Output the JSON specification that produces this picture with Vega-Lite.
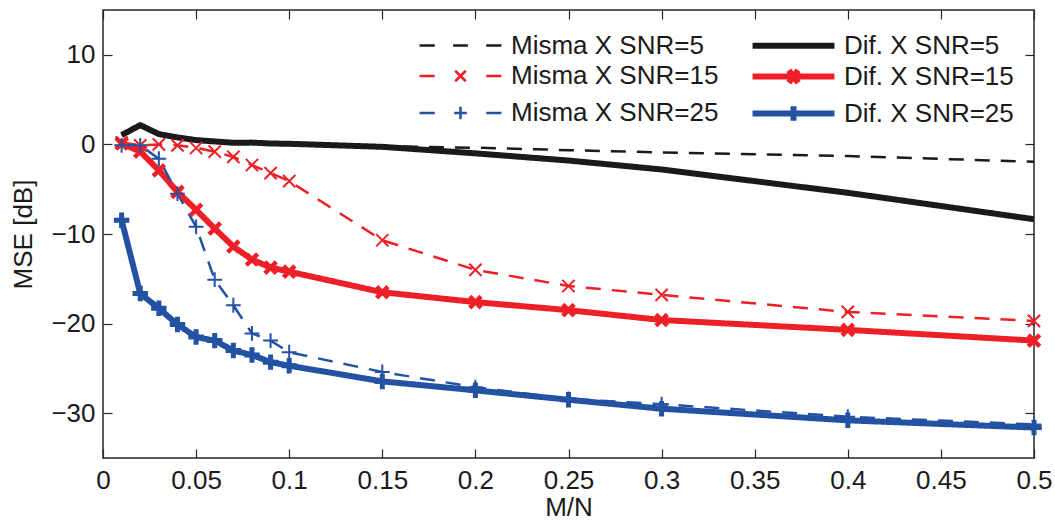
{
  "$schema": "https://vega.github.io/schema/vega-lite/v6.json",
  "width": 931,
  "height": 448,
  "autosize": {"type": "none"},
  "padding": {"left": 103, "top": 10, "right": 21, "bottom": 66},
  "background": "white",
  "config": {
    "font": "Liberation Sans",
    "view": {"stroke": "#262626", "strokeWidth": 1.5},
    "axis": {
      "grid": false,
      "domain": false,
      "tickColor": "#262626",
      "tickSize": -9,
      "tickWidth": 1.2,
      "labelFont": "Liberation Sans",
      "labelFontSize": 26,
      "labelColor": "#1a1a1a",
      "titleFont": "Liberation Sans",
      "titleFontSize": 26,
      "titleFontWeight": "normal",
      "titleColor": "#1a1a1a"
    },
    "legend": {
      "labelFont": "Liberation Sans", "labelFontSize": 26, "labelColor": "#1a1a1a", "labelLimit": 400,
      "symbolFillColor": "transparent"
    }
  },
  "resolve": {"scale": {"color": "independent", "strokeWidth": "independent", "strokeDash": "independent", "shape": "independent"}},
  "data": {
    "values": [
      {"x": 0.01, "y": 1.0, "s": "Misma X SNR=5"},
      {"x": 0.02, "y": 2.05, "s": "Misma X SNR=5"},
      {"x": 0.03, "y": 1.1, "s": "Misma X SNR=5"},
      {"x": 0.04, "y": 0.75, "s": "Misma X SNR=5"},
      {"x": 0.05, "y": 0.45, "s": "Misma X SNR=5"},
      {"x": 0.06, "y": 0.3, "s": "Misma X SNR=5"},
      {"x": 0.07, "y": 0.15, "s": "Misma X SNR=5"},
      {"x": 0.08, "y": 0.18, "s": "Misma X SNR=5"},
      {"x": 0.09, "y": 0.08, "s": "Misma X SNR=5"},
      {"x": 0.1, "y": 0.04, "s": "Misma X SNR=5"},
      {"x": 0.15, "y": -0.2, "s": "Misma X SNR=5"},
      {"x": 0.2, "y": -0.37, "s": "Misma X SNR=5"},
      {"x": 0.25, "y": -0.64, "s": "Misma X SNR=5"},
      {"x": 0.3, "y": -0.9, "s": "Misma X SNR=5"},
      {"x": 0.4, "y": -1.3, "s": "Misma X SNR=5"},
      {"x": 0.5, "y": -1.94, "s": "Misma X SNR=5"},
      {"x": 0.01, "y": 1.04, "s": "Dif. X SNR=5"},
      {"x": 0.02, "y": 2.15, "s": "Dif. X SNR=5"},
      {"x": 0.03, "y": 1.15, "s": "Dif. X SNR=5"},
      {"x": 0.04, "y": 0.78, "s": "Dif. X SNR=5"},
      {"x": 0.05, "y": 0.48, "s": "Dif. X SNR=5"},
      {"x": 0.06, "y": 0.33, "s": "Dif. X SNR=5"},
      {"x": 0.07, "y": 0.18, "s": "Dif. X SNR=5"},
      {"x": 0.08, "y": 0.2, "s": "Dif. X SNR=5"},
      {"x": 0.09, "y": 0.1, "s": "Dif. X SNR=5"},
      {"x": 0.1, "y": 0.07, "s": "Dif. X SNR=5"},
      {"x": 0.15, "y": -0.27, "s": "Dif. X SNR=5"},
      {"x": 0.2, "y": -1.0, "s": "Dif. X SNR=5"},
      {"x": 0.25, "y": -1.8, "s": "Dif. X SNR=5"},
      {"x": 0.3, "y": -2.8, "s": "Dif. X SNR=5"},
      {"x": 0.4, "y": -5.4, "s": "Dif. X SNR=5"},
      {"x": 0.5, "y": -8.35, "s": "Dif. X SNR=5"},
      {"x": 0.01, "y": 0.2, "s": "Misma X SNR=15"},
      {"x": 0.02, "y": -0.1, "s": "Misma X SNR=15"},
      {"x": 0.03, "y": 0.0, "s": "Misma X SNR=15"},
      {"x": 0.04, "y": -0.1, "s": "Misma X SNR=15"},
      {"x": 0.05, "y": -0.4, "s": "Misma X SNR=15"},
      {"x": 0.06, "y": -0.8, "s": "Misma X SNR=15"},
      {"x": 0.07, "y": -1.4, "s": "Misma X SNR=15"},
      {"x": 0.08, "y": -2.3, "s": "Misma X SNR=15"},
      {"x": 0.09, "y": -3.2, "s": "Misma X SNR=15"},
      {"x": 0.1, "y": -4.1, "s": "Misma X SNR=15"},
      {"x": 0.15, "y": -10.7, "s": "Misma X SNR=15"},
      {"x": 0.2, "y": -14.0, "s": "Misma X SNR=15"},
      {"x": 0.25, "y": -15.8, "s": "Misma X SNR=15"},
      {"x": 0.3, "y": -16.8, "s": "Misma X SNR=15"},
      {"x": 0.4, "y": -18.7, "s": "Misma X SNR=15"},
      {"x": 0.5, "y": -19.7, "s": "Misma X SNR=15"},
      {"x": 0.01, "y": 0.1, "s": "Dif. X SNR=15"},
      {"x": 0.02, "y": -0.8, "s": "Dif. X SNR=15"},
      {"x": 0.03, "y": -2.9, "s": "Dif. X SNR=15"},
      {"x": 0.04, "y": -5.3, "s": "Dif. X SNR=15"},
      {"x": 0.05, "y": -7.3, "s": "Dif. X SNR=15"},
      {"x": 0.06, "y": -9.4, "s": "Dif. X SNR=15"},
      {"x": 0.07, "y": -11.4, "s": "Dif. X SNR=15"},
      {"x": 0.08, "y": -12.85, "s": "Dif. X SNR=15"},
      {"x": 0.09, "y": -13.75, "s": "Dif. X SNR=15"},
      {"x": 0.1, "y": -14.2, "s": "Dif. X SNR=15"},
      {"x": 0.15, "y": -16.5, "s": "Dif. X SNR=15"},
      {"x": 0.2, "y": -17.6, "s": "Dif. X SNR=15"},
      {"x": 0.25, "y": -18.5, "s": "Dif. X SNR=15"},
      {"x": 0.3, "y": -19.6, "s": "Dif. X SNR=15"},
      {"x": 0.4, "y": -20.7, "s": "Dif. X SNR=15"},
      {"x": 0.5, "y": -21.9, "s": "Dif. X SNR=15"},
      {"x": 0.01, "y": -0.1, "s": "Misma X SNR=25"},
      {"x": 0.02, "y": -0.1, "s": "Misma X SNR=25"},
      {"x": 0.03, "y": -1.6, "s": "Misma X SNR=25"},
      {"x": 0.04, "y": -5.5, "s": "Misma X SNR=25"},
      {"x": 0.05, "y": -9.2, "s": "Misma X SNR=25"},
      {"x": 0.06, "y": -15.1, "s": "Misma X SNR=25"},
      {"x": 0.07, "y": -17.95, "s": "Misma X SNR=25"},
      {"x": 0.08, "y": -21.1, "s": "Misma X SNR=25"},
      {"x": 0.09, "y": -21.9, "s": "Misma X SNR=25"},
      {"x": 0.1, "y": -23.2, "s": "Misma X SNR=25"},
      {"x": 0.15, "y": -25.4, "s": "Misma X SNR=25"},
      {"x": 0.2, "y": -27.1, "s": "Misma X SNR=25"},
      {"x": 0.25, "y": -28.4, "s": "Misma X SNR=25"},
      {"x": 0.3, "y": -29.0, "s": "Misma X SNR=25"},
      {"x": 0.4, "y": -30.4, "s": "Misma X SNR=25"},
      {"x": 0.5, "y": -31.25, "s": "Misma X SNR=25"},
      {"x": 0.01, "y": -8.46, "s": "Dif. X SNR=25"},
      {"x": 0.02, "y": -16.65, "s": "Dif. X SNR=25"},
      {"x": 0.03, "y": -18.3, "s": "Dif. X SNR=25"},
      {"x": 0.04, "y": -20.1, "s": "Dif. X SNR=25"},
      {"x": 0.05, "y": -21.5, "s": "Dif. X SNR=25"},
      {"x": 0.06, "y": -21.9, "s": "Dif. X SNR=25"},
      {"x": 0.07, "y": -23.0, "s": "Dif. X SNR=25"},
      {"x": 0.08, "y": -23.5, "s": "Dif. X SNR=25"},
      {"x": 0.09, "y": -24.3, "s": "Dif. X SNR=25"},
      {"x": 0.1, "y": -24.7, "s": "Dif. X SNR=25"},
      {"x": 0.15, "y": -26.45, "s": "Dif. X SNR=25"},
      {"x": 0.2, "y": -27.45, "s": "Dif. X SNR=25"},
      {"x": 0.25, "y": -28.5, "s": "Dif. X SNR=25"},
      {"x": 0.3, "y": -29.5, "s": "Dif. X SNR=25"},
      {"x": 0.4, "y": -30.8, "s": "Dif. X SNR=25"},
      {"x": 0.5, "y": -31.6, "s": "Dif. X SNR=25"}
    ]
  },
  "layer": [
    {
      "mark": {"type": "line", "strokeCap": "butt", "strokeJoin": "round"},
      "encoding": {
        "x": {"field": "x", "type": "quantitative", "scale": {"domain": [0, 0.5], "nice": false},
          "axis": {"orient": "bottom", "title": "M/N", "values": [0, 0.05, 0.1, 0.15, 0.2, 0.25, 0.3, 0.35, 0.4, 0.45, 0.5], "format": "~g", "labelFlush": false, "labelOverlap": false, "labelPadding": 18, "titlePadding": 1}},
        "y": {"field": "y", "type": "quantitative", "scale": {"domain": [-35, 15], "nice": false},
          "axis": {"orient": "left", "title": "MSE [dB]", "values": [-30, -20, -10, 0, 10], "labelPadding": 17, "titlePadding": 14}},
        "color": {"field": "s", "type": "nominal", "legend": null,
          "scale": {"domain": ["Misma X SNR=5", "Dif. X SNR=5", "Misma X SNR=15", "Dif. X SNR=15", "Misma X SNR=25", "Dif. X SNR=25"],
                    "range": ["#1a1a1a", "#1a1a1a", "#ee2027", "#ee2027", "#2352a3", "#2352a3"]}},
        "strokeDash": {"field": "s", "type": "nominal", "legend": null,
          "scale": {"domain": ["Misma X SNR=5", "Dif. X SNR=5", "Misma X SNR=15", "Dif. X SNR=15", "Misma X SNR=25", "Dif. X SNR=25"],
                    "range": [[15, 11], [1, 0], [15, 11], [1, 0], [15, 11], [1, 0]]}},
        "strokeWidth": {"field": "s", "type": "nominal", "legend": null,
          "scale": {"type": "ordinal", "domain": ["Misma X SNR=5", "Dif. X SNR=5", "Misma X SNR=15", "Dif. X SNR=15", "Misma X SNR=25", "Dif. X SNR=25"],
                    "range": [2.5, 6, 2.5, 6, 2.5, 6]}}
      }
    },
    {
      "transform": [{"filter": "datum.s === 'Misma X SNR=15'"}],
      "mark": {"type": "point", "filled": false, "shape": "M-1,-1L1,1M-1,1L1,-1", "size": 150, "strokeWidth": 2, "opacity": 1, "color": "#ee2027"},
      "encoding": {
        "x": {"field": "x", "type": "quantitative", "axis": {"orient": "top", "labels": false, "title": null, "values": [0, 0.05, 0.1, 0.15, 0.2, 0.25, 0.3, 0.35, 0.4, 0.45, 0.5]}},
        "y": {"field": "y", "type": "quantitative", "axis": {"orient": "right", "labels": false, "title": null, "values": [-30, -20, -10, 0, 10]}}
      }
    },
    {
      "transform": [{"filter": "datum.s === 'Dif. X SNR=15'"}],
      "mark": {"type": "point", "filled": false, "shape": "M-1,-1L1,1M-1,1L1,-1", "size": 130, "strokeWidth": 4.5, "opacity": 1, "color": "#ee2027"},
      "encoding": {
        "x": {"field": "x", "type": "quantitative", "axis": null},
        "y": {"field": "y", "type": "quantitative", "axis": null}
      }
    },
    {
      "transform": [{"filter": "datum.s === 'Misma X SNR=25'"}],
      "mark": {"type": "point", "filled": false, "shape": "M-1,0H1M0,-1V1", "size": 220, "strokeWidth": 2, "opacity": 1, "color": "#2352a3"},
      "encoding": {
        "x": {"field": "x", "type": "quantitative", "axis": null},
        "y": {"field": "y", "type": "quantitative", "axis": null}
      }
    },
    {
      "transform": [{"filter": "datum.s === 'Dif. X SNR=25'"}],
      "mark": {"type": "point", "filled": false, "shape": "M-1,0H1M0,-1V1", "size": 240, "strokeWidth": 5, "opacity": 1, "color": "#2352a3"},
      "encoding": {
        "x": {"field": "x", "type": "quantitative", "axis": null},
        "y": {"field": "y", "type": "quantitative", "axis": null}
      }
    },
    {
      "mark": {"type": "point", "filled": false, "opacity": 0, "size": 441},
      "encoding": {
        "x": {"field": "x", "type": "quantitative", "axis": null},
        "y": {"field": "y", "type": "quantitative", "axis": null},
        "color": {"field": "s", "type": "nominal",
          "legend": {"title": null, "orient": "none", "legendX": 344, "legendY": 22, "columns": 2, "columnPadding": 21, "rowPadding": -1, "labelOffset": 37, "symbolSize": 441, "padding": 0},
          "scale": {"domain": ["Misma X SNR=5", "Misma X SNR=15", "Misma X SNR=25", "Dif. X SNR=5", "Dif. X SNR=15", "Dif. X SNR=25"],
                    "range": ["#1a1a1a", "#ee2027", "#2352a3", "#1a1a1a", "#ee2027", "#2352a3"]}},
        "shape": {"field": "s", "type": "nominal",
          "legend": {"title": null, "orient": "none", "legendX": 344, "legendY": 22, "columns": 2, "columnPadding": 21, "rowPadding": -1, "labelOffset": 37, "symbolSize": 441, "padding": 0},
          "scale": {"domain": ["Misma X SNR=5", "Misma X SNR=15", "Misma X SNR=25", "Dif. X SNR=5", "Dif. X SNR=15", "Dif. X SNR=25"],
                    "range": ["M-3.9,0H-2.45M-0.7,0H0.7M2.45,0H3.9",
                              "M-3.9,0H-2.45M2.45,0H3.9M-0.5,-0.5L0.5,0.5M-0.5,0.5L0.5,-0.5",
                              "M-3.9,0H-2.45M2.45,0H3.9M-0.6,0H0.6M0,-0.6V0.6",
                              "M-3.9,0H3.9",
                              "M-3.9,0H3.9M-0.45,-0.6L0.45,0.6M-0.45,0.6L0.45,-0.6",
                              "M-3.9,0H3.9M0,-0.7V0.7"]}},
        "strokeWidth": {"field": "s", "type": "nominal",
          "legend": {"title": null, "orient": "none", "legendX": 344, "legendY": 22, "columns": 2, "columnPadding": 21, "rowPadding": -1, "labelOffset": 37, "symbolSize": 441, "padding": 0},
          "scale": {"type": "ordinal", "domain": ["Misma X SNR=5", "Misma X SNR=15", "Misma X SNR=25", "Dif. X SNR=5", "Dif. X SNR=15", "Dif. X SNR=25"],
                    "range": [2.5, 2.5, 2.5, 6, 6, 6]}}
      }
    }
  ]
}
